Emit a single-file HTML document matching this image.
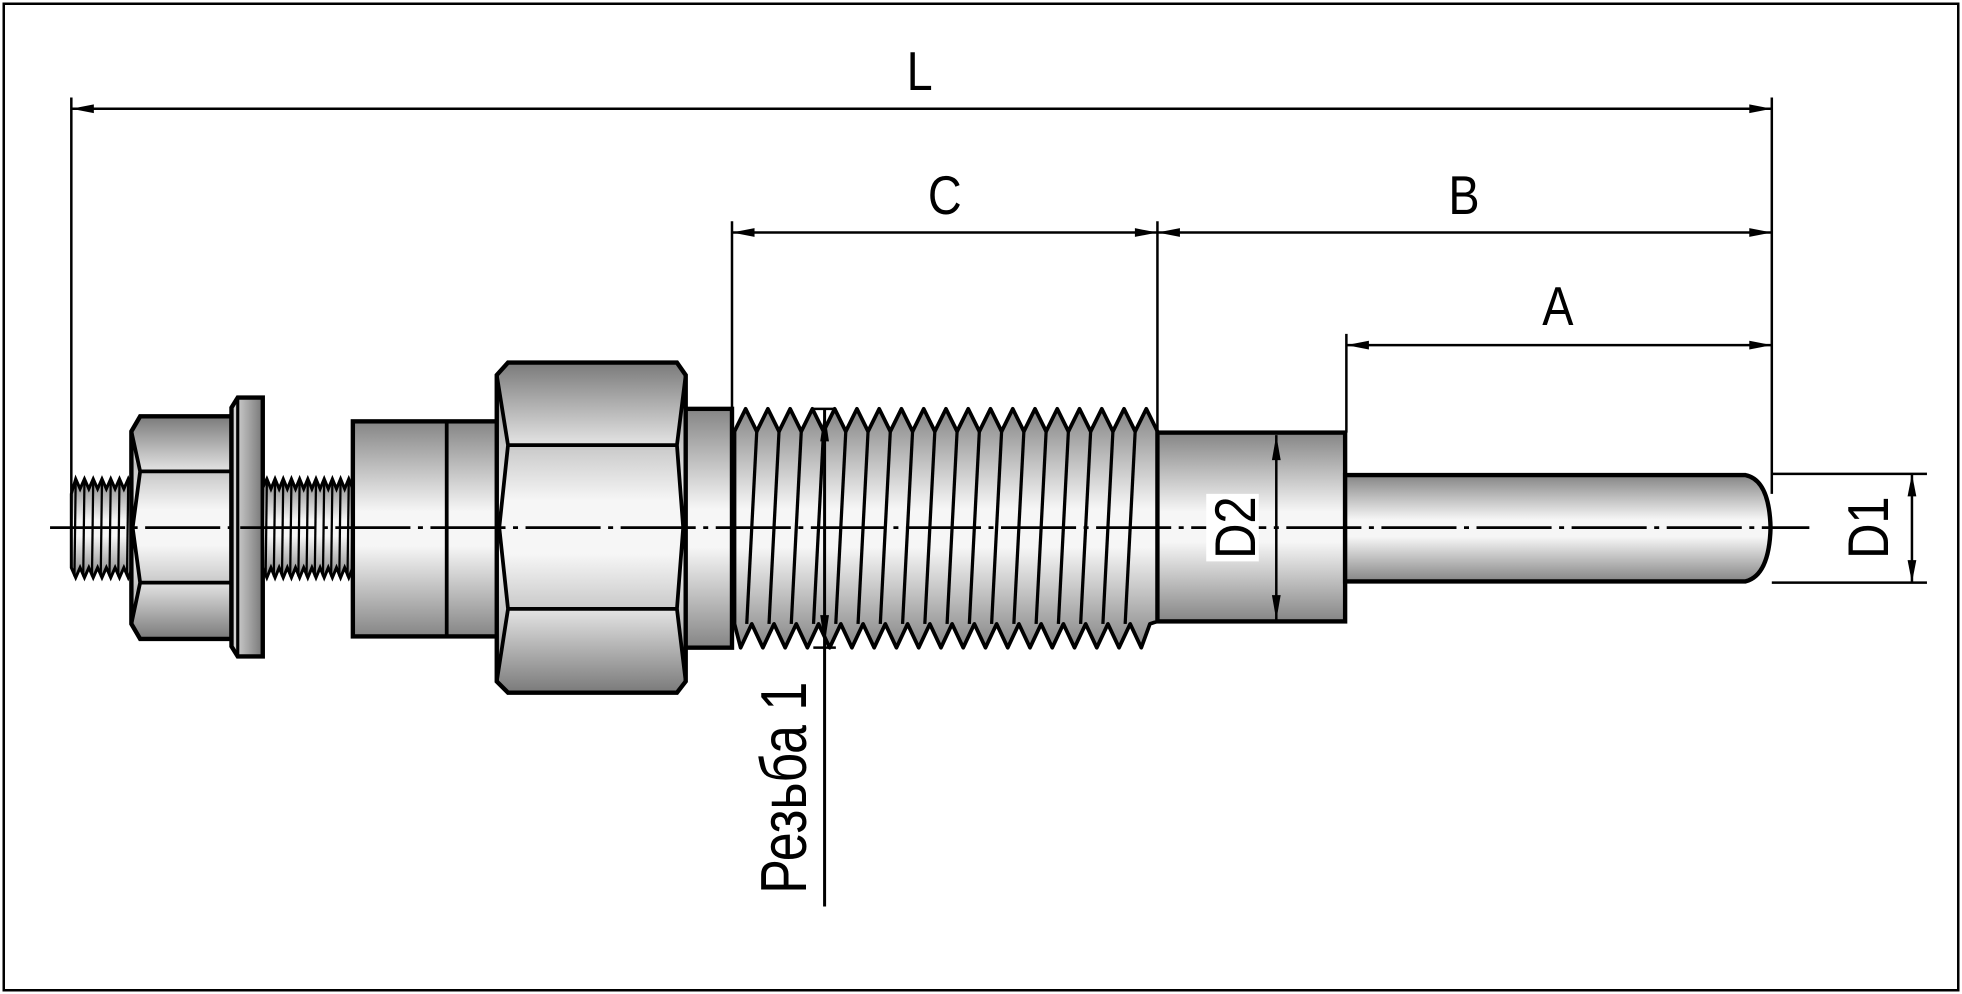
<!DOCTYPE html>
<html><head><meta charset="utf-8"><style>
html,body{margin:0;padding:0;background:#fff;}
svg{display:block;}
text{font-family:"Liberation Sans",sans-serif;fill:#000;}
</style></head><body>
<svg id="s" width="1962" height="994" viewBox="0 0 1568 795" preserveAspectRatio="none" xmlns="http://www.w3.org/2000/svg">
<defs>
<linearGradient id="g" x1="0" y1="0" x2="0" y2="1">
<stop offset="0" stop-color="#858585"/><stop offset="0.42" stop-color="#f6f6f6"/><stop offset="0.58" stop-color="#f6f6f6"/><stop offset="1" stop-color="#858585"/>
</linearGradient>
<linearGradient id="gh" x1="0" y1="0" x2="0" y2="1">
<stop offset="0" stop-color="#7a7a7a"/><stop offset="1" stop-color="#e4e4e4"/>
</linearGradient>
<linearGradient id="gh2" x1="0" y1="0" x2="0" y2="1">
<stop offset="0" stop-color="#e4e4e4"/><stop offset="1" stop-color="#7a7a7a"/>
</linearGradient>
<linearGradient id="gw" x1="0" y1="0" x2="1" y2="0">
<stop offset="0" stop-color="#ddd"/><stop offset="1" stop-color="#777"/>
</linearGradient>
</defs>
<rect x="3" y="3" width="1562" height="789" fill="#fff" stroke="#000" stroke-width="2"/>

<g id="t1"></g>
<path d="M105,345 L112,333 L185,333 L185,511 L112,511 L105,499 Z" fill="url(#g)"/>
<path d="M112,333 L185,333 L185,377 L112,377 L106,366 L106,345 Z" fill="url(#gh)"/>
<path d="M112,466 L185,466 L185,511 L112,511 L106,499 L106,478 Z" fill="url(#gh2)"/>
<path d="M105,345 L112,333 L185,333 L185,511 L112,511 L105,499 Z" fill="none" stroke="#000" stroke-width="3.5"/>
<path d="M105,345 L112,377 L185,377 M112,377 L106,422 L112,466 L185,466 M112,466 L105,499" fill="none" stroke="#000" stroke-width="3"/>
<path d="M185,326 L190,318 L210,318 L210,525 L190,525 L185,517 Z" fill="url(#gw)" stroke="#000" stroke-width="3.5"/>
<line x1="190" y1="318" x2="190" y2="525" stroke="#000" stroke-width="2.5"/>
<g id="t2"></g>
<rect x="282" y="337" width="116" height="172" fill="url(#g)" stroke="#000" stroke-width="3.5"/>
<line x1="357" y1="337" x2="357" y2="509" stroke="#000" stroke-width="3"/>
<path d="M397,300 L406,290 L541,290 L548,300 L548,545 L541,554 L406,554 L397,545 Z" fill="url(#g)"/>
<path d="M406,290 L541,290 L548,300 L541,356 L406,356 L397,300 Z" fill="url(#gh)"/>
<path d="M406,487 L541,487 L548,545 L541,554 L406,554 L397,545 Z" fill="url(#gh2)"/>
<path d="M397,300 L406,290 L541,290 L548,300 L548,545 L541,554 L406,554 L397,545 Z" fill="none" stroke="#000" stroke-width="3.5"/>
<path d="M397,300 L406,356 L541,356 L548,300 M406,356 L399,422 L406,487 L541,487 L548,545 M541,356 L546,422 L541,487 M406,487 L397,545" fill="none" stroke="#000" stroke-width="3"/>
<rect x="548" y="327" width="37" height="191" fill="url(#g)" stroke="#000" stroke-width="3.5"/>
<g id="t3"></g>
<rect x="925" y="346" width="150" height="151" fill="url(#g)" stroke="#000" stroke-width="3.5"/>
<path d="M1075,380 L1395,380 Q1414,384 1415,422 Q1414,460 1395,465 L1075,465 Z" fill="url(#g)" stroke="#000" stroke-width="3.5"/>

<line x1="40" y1="422" x2="1446" y2="422" stroke="#000" stroke-width="2.2" stroke-dasharray="60,6,4,6"/>

<g stroke="#000" stroke-width="2" fill="none">
<line x1="57" y1="78" x2="57" y2="415"/>
<line x1="1416" y1="78" x2="1416" y2="395"/>
<line x1="57" y1="87" x2="1416" y2="87"/>
<line x1="585" y1="177" x2="585" y2="326"/>
<line x1="925" y1="177" x2="925" y2="346"/>
<line x1="585" y1="186" x2="1416" y2="186"/>
<line x1="1076" y1="267" x2="1076" y2="346"/>
<line x1="1076" y1="276" x2="1416" y2="276"/>
<line x1="1416" y1="379" x2="1540" y2="379"/>
<line x1="1416" y1="466" x2="1540" y2="466"/>
<line x1="1528" y1="379" x2="1528" y2="466"/>
<line x1="1020" y1="348" x2="1020" y2="496"/>
<line x1="659" y1="327" x2="659" y2="725" stroke-width="2.4"/>
<line x1="650" y1="327" x2="668" y2="327"/>
<line x1="650" y1="518" x2="668" y2="518"/>
</g>
<g fill="#000">
<path d="M57,87 l18,-3.5 l0,7 Z"/><path d="M1416,87 l-18,-3.5 l0,7 Z"/>
<path d="M585,186 l18,-3.5 l0,7 Z"/><path d="M925,186 l-18,-3.5 l0,7 Z"/>
<path d="M925,186 l18,-3.5 l0,7 Z"/><path d="M1416,186 l-18,-3.5 l0,7 Z"/>
<path d="M1076,276 l18,-3.5 l0,7 Z"/><path d="M1416,276 l-18,-3.5 l0,7 Z"/>
<path d="M1528,379 l-3.5,18 l7,0 Z"/><path d="M1528,466 l-3.5,-18 l7,0 Z"/>
<path d="M1020,348 l-3.5,20 l7,0 Z"/><path d="M1020,496 l-3.5,-20 l7,0 Z"/>
<path d="M659,329 l-3.5,24 l7,0 Z"/><path d="M659,516 l-3.5,-24 l7,0 Z"/>
</g>
<rect x="964" y="395" width="42" height="54" fill="#fff"/>

<text transform="translate(735,72) scale(0.85,1)" font-size="44" text-anchor="middle">L</text>
<text transform="translate(755,171) scale(0.85,1)" font-size="44" text-anchor="middle">C</text>
<text transform="translate(1170,171) scale(0.85,1)" font-size="44" text-anchor="middle">B</text>
<text transform="translate(1245,260) scale(0.85,1)" font-size="44" text-anchor="middle">A</text>
<text transform="translate(1003,422) rotate(-90) scale(0.85,1)" font-size="46" text-anchor="middle">D2</text>
<text transform="translate(1509,422) rotate(-90) scale(0.85,1)" font-size="46" text-anchor="middle">D1</text>
<text transform="translate(644,630) rotate(-90) scale(0.8,1)" font-size="52" text-anchor="middle">Резьба 1</text>
</svg>
<script>
var NS="http://www.w3.org/2000/svg";
function el(p,tag,a){var e=document.createElementNS(NS,tag);for(var k in a)e.setAttribute(k,a[k]);p.appendChild(e);return e;}
function small(id,x0,x1,n,chamfer){
 var g=document.getElementById(id);var p=(x1-x0)/n;
 var d="M"+x0+","+(chamfer?395:390);
 for(var i=0;i<n;i++){var a=x0+i*p;d+=" L"+(a+p/2)+",383 L"+(a+p)+",391";}
 d+=" L"+x1+",454";
 for(var i=n-1;i>=0;i--){var a=x0+i*p;d+=" L"+(a+p/2)+",462 L"+a+",454";}
 d+=" Z";
 el(g,"path",{d:d,fill:"url(#g)",stroke:"#000","stroke-width":"2.4"});
 for(var i=0;i<n;i++){var a=x0+i*p+p/2;el(g,"line",{x1:a,y1:384,x2:a-1,y2:461,stroke:"#000","stroke-width":"1.8"});}
}
small("t1",57,106,7,true);
small("t2",210,282,11,false);
(function(){
 var g=document.getElementById("t3");var x0=587,x1=925,n=19,p=(x1-x0)/n;
 var d="M"+x0+",345";
 for(var i=0;i<n;i++){var a=x0+i*p;d+=" L"+(a+p/2)+",327 L"+(a+p)+",345";}
 d+=" L"+x1+",346 L"+x1+",497 L"+(x1-6)+",499";
 for(var i=n-1;i>=0;i--){var a=x0+i*p-4;d+=" L"+(a+p/2)+",518 L"+Math.max(a,x0)+",499";}
 d+=" Z";
 el(g,"path",{d:d,fill:"url(#g)",stroke:"#000","stroke-width":"3","stroke-linejoin":"round"});
 for(var i=0;i<n;i++){var a=x0+i*p+p;if(a>=x1-2)continue;el(g,"line",{x1:a,y1:345,x2:a-8,y2:499,stroke:"#000","stroke-width":"2.6"});}
})();
</script>
</body></html>
